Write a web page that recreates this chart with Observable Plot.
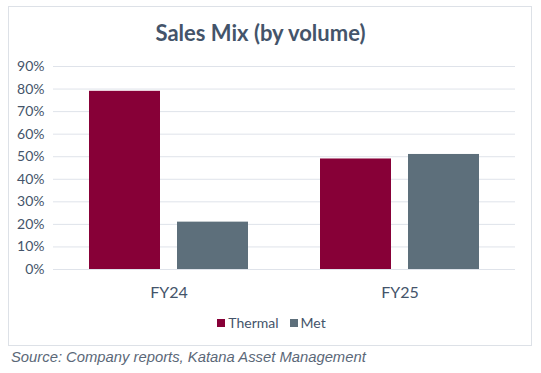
<!DOCTYPE html>
<html>
<head>
<meta charset="utf-8">
<script src="https://cdn.jsdelivr.net/npm/d3@7"></script>
<script src="https://cdn.jsdelivr.net/npm/@observablehq/plot@0.6"></script>
<style>
  html, body { margin: 0; padding: 0; background: #fff; }
  #wrap { position: relative; width: 541px; height: 373px; overflow: hidden; font-family: Lato, "Noto Sans", sans-serif; }
  #box { position: absolute; left: 8px; top: 6px; width: 524px; height: 340px; border: 1px solid #dde1e7; box-sizing: border-box; }
  #title { position: absolute; left: 0; width: 521px; top: 19px; text-align: center; font-weight: bold; font-size: 22px; color: #44546A; line-height: 28px; }
  #chart { position: absolute; left: 0; top: 0; }
  #legend { position: absolute; left: 0; width: 543px; top: 315px; display: flex; justify-content: center; gap: 11px; font-size: 14px; color: #44546A; line-height: 16px; }
  #legend span.item { display: flex; align-items: center; gap: 3px; }
  #legend span.sw { display: inline-block; width: 8px; height: 8px; }
  #source { position: absolute; left: 11px; top: 349px; font-family: "Liberation Sans", Arial, sans-serif; font-style: italic; font-size: 14.8px; color: #5b6878; }
</style>
</head>
<body>
<div id="wrap">
  <div id="box"></div>
  <div id="title">Sales Mix (by volume)</div>
  <div id="chart"></div>
  <div id="legend"></div>
  <div id="source">Source: Company reports, Katana Asset Management</div>
</div>
<script>
const years = ["FY24", "FY25"];
const seriesNames = ["Thermal", "Met"];
const thermal = [0.79, 0.49];
const met = [0.21, 0.51];
const yTicks = [0, 0.1, 0.2, 0.3, 0.4, 0.5, 0.6, 0.7, 0.8, 0.9];
const colors = ["#870037", "#5d6f7b"];

const data = [];
years.forEach((yr, i) => {
  data.push({year: yr, series: seriesNames[0], value: thermal[i]});
  data.push({year: yr, series: seriesNames[1], value: met[i]});
});

const plot = Plot.plot({
  width: 541,
  height: 310,
  marginLeft: 53,
  marginRight: 26,
  marginTop: 66,
  marginBottom: 41,
  style: { fontFamily: "Lato, 'Noto Sans', sans-serif", background: "transparent", color: "#44546A" },
  fx: { domain: years, paddingInner: 0, paddingOuter: 0, label: null },
  x: { domain: seriesNames, paddingInner: 0.193, paddingOuter: 0.409, axis: null },
  y: { domain: [0, 0.9], label: null },
  color: { domain: seriesNames, range: colors },
  marks: [
    Plot.ruleY(yTicks, { stroke: "#dfe3ea", strokeWidth: 1 }),
    Plot.barY(data, { fx: "year", x: "series", y: "value", fill: "series" }),
    Plot.axisFx({ anchor: "bottom", tickSize: 0, tickPadding: 17, fontSize: 16, label: null, fill: "#44546A" }),
    Plot.axisY(yTicks, { tickFormat: d3.format(".0%"), tickSize: 0, tickPadding: 9, fontSize: 14, label: null, fill: "#44546A" })
  ]
});
document.getElementById("chart").appendChild(plot);

const legend = d3.select("#legend");
seriesNames.forEach((s, i) => {
  const it = legend.append("span").attr("class", "item");
  it.append("span").attr("class", "sw").style("background", colors[i]);
  it.append("span").text(s);
});
</script>
</body>
</html>
